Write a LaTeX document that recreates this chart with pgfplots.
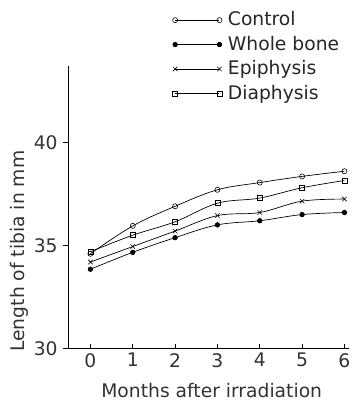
\documentclass[border=0pt]{standalone}
\usepackage{fontspec}
\setmainfont{DejaVu Sans}
\usepackage{pgfplots}
\pgfplotsset{compat=1.18}
\begin{document}
\begin{tikzpicture}
\fontsize{19pt}{22pt}\selectfont
\begin{axis}[
  at={(69pt,50pt)}, anchor=south west,
  scale only axis, width=285pt, height=287pt,
  xmin=-0.53, xmax=6.1, ymin=30, ymax=43.7,
  axis x line*=bottom, axis y line*=left,
  xtick={0,...,6}, ytick={30,35,40},
  x tick style={black, line width=0.6pt}, y tick style={black, line width=0.6pt},
  xtick align=inside, ytick align=outside,
  major tick length=5pt,
  /pgf/number format/assume math mode=true,
  tick label style={font=\fontsize{19pt}{22pt}\selectfont, text=black!80},
  xticklabel style={yshift=2pt},
  yticklabel style={xshift=1pt},
  axis line style={black, line width=0.8pt},
  xlabel={Months after irradiation},
  ylabel={Length of tibia in mm},
  label style={font=\fontsize{19pt}{22pt}\selectfont, text=black!80},
  x label style={at={(axis description cs:0.512,-0.148)}, anchor=center},
  y label style={at={(axis description cs:-0.172,0.345)}, anchor=center, rotate=0},
  legend style={draw=none, fill=none, at={(axis description cs:0.372,1.20)}, anchor=north west, inner sep=0pt, row sep=3.5pt, cells={anchor=west}, nodes={inner xsep=6pt}, font=\fontsize{19pt}{22pt}\selectfont, text=black!85},
  legend image code/.code={\draw[#1] plot coordinates {(0pt,0pt) (45pt,0pt)};},
  clip=false,
]
\addplot[black, line width=0.7pt, smooth, tension=0.6, mark=o, mark size=2.6pt, mark options={solid, fill=white, line width=0.6pt}] coordinates {
(0,34.6) (1,35.95) (2,36.9) (3,37.7) (4,38.05) (5,38.35) (6,38.6)};
\addlegendentry{Control}
\addplot[black, line width=0.7pt, smooth, tension=0.6, mark=*, mark size=2.3pt, mark options={solid, fill=black}] coordinates {
(0,33.85) (1,34.67) (2,35.38) (3,36.0) (4,36.2) (5,36.5) (6,36.6)};
\addlegendentry{Whole bone}
\addplot[black, line width=0.7pt, smooth, tension=0.6, mark=x, mark size=3.2pt, mark options={solid, line width=0.6pt}] coordinates {
(0,34.2) (1,34.95) (2,35.7) (3,36.45) (4,36.6) (5,37.15) (6,37.25)};
\addlegendentry{Epiphysis}
\addplot[black, line width=0.7pt, smooth, tension=0.6, mark=square, mark size=2.5pt, mark options={solid, fill=white, line width=0.6pt}] coordinates {
(0,34.7) (1,35.5) (2,36.15) (3,37.05) (4,37.3) (5,37.8) (6,38.15)};
\addlegendentry{Diaphysis}
\end{axis}
\path[use as bounding box] (0,0) rectangle (355pt,404pt);
\end{tikzpicture}
\end{document}
